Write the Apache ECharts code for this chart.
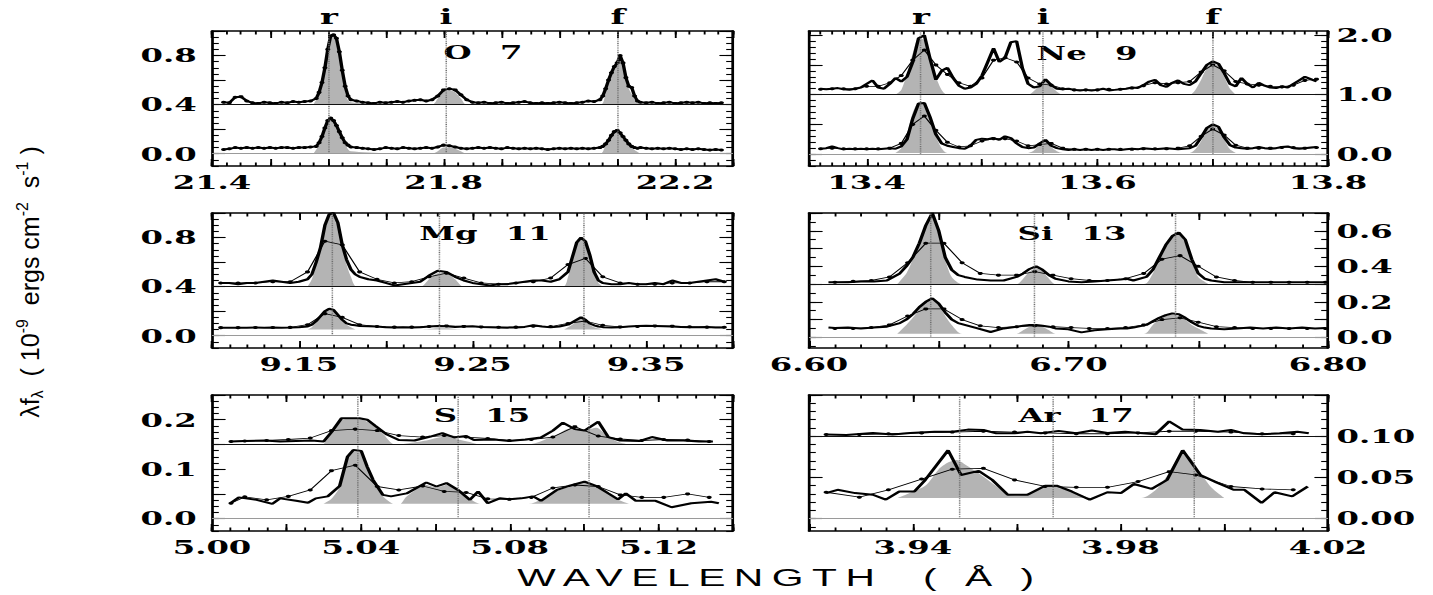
<!DOCTYPE html>
<html>
<head>
<meta charset="utf-8">
<script src="https://cdn.jsdelivr.net/npm/echarts@6/dist/echarts.min.js"></script>
<style>
html,body{margin:0;padding:0;background:#fff;width:1433px;height:595px;overflow:hidden}
#chart{position:absolute;left:0;top:0;width:843px;height:595px;transform-origin:0 0;transform:scaleX(1.7)}
</style>
</head>
<body>
<div id="chart"></div>
<script>
// ================= DATA =================
// ---- O 7 ----
const o7XLabels = [21.4, 21.8, 22.2];
const o7YLabels = [0.0, 0.4, 0.8];
const o7Lines = [21.602, 21.804, 22.101];
const o7Wl = [21.42,21.43,21.44,21.45,21.46,21.47,21.48,21.49,21.50,21.51,21.52,21.53,21.54,21.55,21.56,21.57,21.58,
  21.585,21.59,21.595,21.60,21.605,21.61,21.615,21.62,21.625,21.63,21.635,
  21.64,21.65,21.66,21.67,21.68,21.69,21.70,21.71,21.72,21.73,21.74,21.75,21.76,21.77,21.78,21.79,21.80,21.81,21.82,21.83,21.84,21.85,21.86,21.87,21.88,21.89,21.90,21.91,21.92,21.93,21.94,21.95,21.96,21.97,21.98,21.99,22.00,22.01,22.02,22.03,22.04,22.05,22.06,22.07,
  22.075,22.08,22.085,22.09,22.095,22.10,22.105,22.11,22.115,22.12,22.125,22.13,22.135,
  22.14,22.15,22.16,22.17,22.18,22.19,22.20,22.21,22.22,22.23,22.24,22.25,22.26,22.27,22.28];
const o7Top = [0.42,0.415,0.46,0.465,0.43,0.415,0.41,0.42,0.415,0.41,0.42,0.415,0.425,0.42,0.425,0.43,0.45,
  0.50,0.58,0.70,0.85,0.96,0.97,0.94,0.83,0.68,0.55,0.47,
  0.44,0.43,0.42,0.415,0.41,0.42,0.415,0.42,0.425,0.42,0.43,0.435,0.44,0.43,0.44,0.47,0.52,0.53,0.52,0.48,0.44,0.42,0.415,0.42,0.41,0.415,0.42,0.41,0.415,0.42,0.425,0.415,0.41,0.415,0.41,0.415,0.42,0.415,0.41,0.415,0.42,0.43,0.425,0.44,
  0.47,0.53,0.60,0.66,0.71,0.74,0.80,0.74,0.62,0.55,0.54,0.47,0.43,
  0.42,0.415,0.42,0.41,0.415,0.42,0.41,0.415,0.42,0.415,0.42,0.41,0.415,0.41,0.415];
const o7Bot = [0.035,0.04,0.05,0.045,0.05,0.045,0.05,0.045,0.05,0.045,0.05,0.05,0.045,0.05,0.05,0.055,0.06,
  0.09,0.14,0.21,0.27,0.29,0.27,0.23,0.18,0.13,0.09,0.07,
  0.055,0.05,0.045,0.04,0.035,0.04,0.05,0.045,0.04,0.05,0.045,0.04,0.045,0.05,0.045,0.055,0.07,0.065,0.055,0.045,0.04,0.045,0.05,0.045,0.05,0.045,0.04,0.05,0.045,0.04,0.045,0.04,0.045,0.04,0.035,0.04,0.045,0.04,0.045,0.04,0.045,0.04,0.045,0.05,
  0.06,0.08,0.11,0.15,0.18,0.19,0.17,0.14,0.11,0.08,0.06,0.05,0.045,
  0.05,0.045,0.04,0.045,0.04,0.045,0.04,0.035,0.04,0.035,0.04,0.035,0.03,0.035,0.03];
const o7FillWl = [21.575,21.585,21.59,21.595,21.60,21.605,21.61,21.615,21.62,21.625,21.63,21.64,
  21.78,21.79,21.80,21.81,21.82,21.83,21.84,
  22.07,22.08,22.085,22.09,22.095,22.10,22.105,22.11,22.115,22.12,22.13,22.14];
const o7FillTop = [0.40,0.48,0.57,0.70,0.85,0.95,0.96,0.92,0.80,0.65,0.52,0.42,
  0.40,0.45,0.51,0.52,0.50,0.45,0.40,
  0.40,0.52,0.60,0.66,0.71,0.74,0.78,0.72,0.60,0.53,0.45,0.40];
const o7FillBot = [0.00,0.07,0.13,0.20,0.26,0.28,0.26,0.22,0.17,0.12,0.08,0.02,
  0.00,0.02,0.05,0.05,0.04,0.02,0.00,
  0.00,0.07,0.10,0.14,0.17,0.18,0.16,0.13,0.10,0.07,0.03,0.00];

// ---- Ne 9 ----
const ne9XLabels = [13.4, 13.6, 13.8];
const ne9YLabels = [0.0, 1.0, 2.0];
const ne9Lines = [13.447, 13.553, 13.700];
const ne9Wl = [13.360,13.365,13.370,13.375,13.380,13.385,13.390,13.395,13.400,13.405,13.410,13.415,13.420,13.425,13.430,13.435,13.440,13.445,13.450,13.455,
  13.460,13.465,13.470,13.475,13.480,13.485,13.490,13.495,13.500,13.505,13.510,13.515,13.520,13.525,13.530,13.535,13.540,13.545,13.550,13.555,
  13.560,13.565,13.570,13.575,13.580,13.585,13.590,13.595,13.600,13.605,13.610,13.615,13.620,13.625,13.630,13.635,13.640,13.645,13.650,13.655,
  13.660,13.665,13.670,13.675,13.680,13.685,13.690,13.695,13.700,13.705,13.710,13.715,13.720,13.725,13.730,13.735,13.740,13.745,13.750,13.755,
  13.760,13.765,13.770,13.775,13.780,13.785,13.790];
const ne9Top = [1.10,1.09,1.10,1.11,1.09,1.08,1.10,1.12,1.18,1.24,1.12,1.10,1.18,1.28,1.22,1.30,1.55,1.95,2.00,1.60,
  1.25,1.40,1.45,1.28,1.15,1.10,1.12,1.18,1.32,1.55,1.78,1.55,1.62,1.88,1.90,1.45,1.18,1.12,1.14,1.26,
  1.16,1.10,1.09,1.10,1.08,1.07,1.08,1.07,1.08,1.10,1.07,1.08,1.09,1.10,1.12,1.11,1.16,1.22,1.25,1.16,
  1.13,1.20,1.24,1.18,1.16,1.22,1.36,1.50,1.56,1.52,1.36,1.18,1.14,1.28,1.18,1.12,1.20,1.15,1.12,1.11,
  1.14,1.12,1.18,1.24,1.30,1.26,1.22];
const ne9Bot = [0.09,0.10,0.13,0.10,0.08,0.09,0.08,0.09,0.08,0.09,0.08,0.09,0.10,0.09,0.13,0.25,0.60,0.85,0.86,0.62,
  0.33,0.18,0.14,0.12,0.10,0.09,0.14,0.24,0.26,0.25,0.27,0.24,0.30,0.27,0.18,0.12,0.10,0.11,0.18,0.24,
  0.14,0.10,0.08,0.07,0.08,0.07,0.08,0.07,0.08,0.07,0.08,0.08,0.07,0.08,0.09,0.08,0.10,0.09,0.08,0.09,
  0.10,0.09,0.08,0.09,0.10,0.14,0.28,0.44,0.50,0.46,0.28,0.15,0.11,0.10,0.09,0.10,0.12,0.10,0.09,0.10,
  0.12,0.13,0.10,0.09,0.10,0.11,0.12];
const ne9ThinWl = [13.36,13.37,13.38,13.39,13.40,13.41,13.42,13.43,13.44,13.45,13.46,13.47,13.48,13.49,13.50,13.51,13.52,13.53,13.54,13.55,
  13.56,13.57,13.58,13.59,13.60,13.61,13.62,13.63,13.64,13.65,13.66,13.67,13.68,13.69,13.70,13.71,13.72,13.73,13.74,13.75,13.76,13.77,13.78,13.79];
const ne9ThinTop = [1.09,1.10,1.10,1.10,1.14,1.14,1.20,1.32,1.58,1.75,1.50,1.34,1.20,1.14,1.28,1.58,1.62,1.55,1.28,1.18,
  1.16,1.10,1.08,1.08,1.08,1.09,1.09,1.11,1.15,1.20,1.18,1.20,1.22,1.38,1.50,1.40,1.22,1.18,1.16,1.14,1.13,1.16,1.24,1.26];
const ne9ThinBot = [0.09,0.10,0.09,0.09,0.09,0.09,0.10,0.18,0.50,0.64,0.40,0.20,0.12,0.14,0.22,0.26,0.26,0.22,0.14,0.16,
  0.18,0.10,0.08,0.08,0.08,0.08,0.08,0.08,0.09,0.09,0.09,0.10,0.14,0.30,0.42,0.32,0.15,0.10,0.10,0.10,0.11,0.11,0.10,0.11];
const ne9FillWl = [13.425,13.430,13.435,13.440,13.445,13.450,13.455,13.460,13.465,13.470,
  13.540,13.545,13.550,13.555,13.560,13.565,13.570,
  13.680,13.685,13.690,13.695,13.700,13.705,13.710,13.715,13.720];
const ne9FillTop = [1.0,1.08,1.35,1.70,1.95,1.92,1.62,1.30,1.08,1.0,
  1.0,1.06,1.16,1.22,1.14,1.05,1.0,
  1.0,1.08,1.25,1.45,1.54,1.48,1.30,1.10,1.0];
const ne9FillBot = [0.02,0.10,0.35,0.70,0.86,0.84,0.60,0.30,0.10,0.02,
  0.02,0.06,0.16,0.22,0.12,0.05,0.02,
  0.02,0.08,0.22,0.40,0.48,0.42,0.25,0.08,0.02];

// ---- Mg 11 ----
const mg11XLabels = [9.15, 9.25, 9.35];
const mg11YLabels = [0.0, 0.4, 0.8];
const mg11Lines = [9.169, 9.231, 9.314];
const mg11Wl = [9.105,9.110,9.115,9.120,9.125,9.130,9.135,9.140,9.145,9.150,9.155,
  9.1575,9.160,9.1625,9.165,9.1675,9.170,9.1725,9.175,9.1775,9.180,9.1825,
  9.185,9.190,9.195,9.200,9.205,9.210,9.215,9.220,9.225,9.230,9.235,9.240,9.245,9.250,9.255,9.260,9.265,9.270,9.275,9.280,9.285,9.290,9.295,9.300,9.305,
  9.3075,9.310,9.3125,9.315,9.3175,9.320,9.3225,
  9.325,9.330,9.335,9.340,9.345,9.350,9.355,9.360,9.365,9.370,9.375,9.380,9.385,9.390,9.395];
const mg11Top = [0.43,0.43,0.42,0.43,0.43,0.44,0.45,0.44,0.43,0.44,0.46,
  0.50,0.60,0.72,0.90,0.99,1.00,0.92,0.74,0.62,0.54,0.50,
  0.48,0.46,0.45,0.43,0.41,0.42,0.43,0.44,0.49,0.53,0.52,0.48,0.45,0.43,0.42,0.41,0.42,0.42,0.43,0.44,0.45,0.45,0.44,0.46,0.52,
  0.64,0.76,0.80,0.77,0.66,0.52,0.45,
  0.43,0.42,0.42,0.43,0.42,0.42,0.43,0.42,0.45,0.43,0.43,0.44,0.45,0.46,0.44];
const mg11Bot = [0.065,0.065,0.066,0.065,0.067,0.066,0.068,0.066,0.067,0.07,0.075,
  0.09,0.12,0.16,0.20,0.22,0.21,0.17,0.13,0.10,0.09,0.085,
  0.08,0.078,0.075,0.07,0.068,0.07,0.068,0.07,0.075,0.08,0.078,0.072,0.075,0.078,0.072,0.07,0.068,0.066,0.068,0.072,0.085,0.075,0.068,0.075,0.09,
  0.11,0.13,0.15,0.13,0.10,0.085,0.075,
  0.07,0.068,0.07,0.075,0.08,0.082,0.08,0.078,0.075,0.072,0.07,0.07,0.072,0.068,0.068];
const mg11ThinWl = [9.105,9.115,9.125,9.135,9.145,9.155,9.165,9.175,9.185,9.195,9.205,9.215,9.225,9.235,9.245,9.255,9.265,9.275,9.285,9.295,
  9.305,9.315,9.325,9.335,9.345,9.355,9.365,9.375,9.385,9.395];
const mg11ThinTop = [0.43,0.43,0.43,0.44,0.44,0.52,0.77,0.74,0.52,0.46,0.43,0.44,0.48,0.51,0.47,0.43,0.42,0.43,0.44,0.47,
  0.58,0.63,0.48,0.43,0.42,0.42,0.43,0.43,0.44,0.44];
const mg11ThinBot = [0.066,0.066,0.067,0.067,0.068,0.09,0.18,0.15,0.09,0.075,0.07,0.07,0.075,0.08,0.076,0.072,0.069,0.07,0.078,0.075,
  0.10,0.12,0.085,0.072,0.076,0.08,0.078,0.073,0.07,0.069];
const mg11FillWl = [9.155,9.1575,9.160,9.1625,9.165,9.1675,9.170,9.1725,9.175,9.1775,9.180,9.1835,
  9.220,9.225,9.230,9.235,9.240,9.245,
  9.302,9.305,9.3075,9.310,9.3125,9.315,9.3175,9.320,9.3225,9.325];
const mg11FillTop = [0.40,0.46,0.58,0.72,0.90,0.99,1.00,0.92,0.74,0.58,0.48,0.40,
  0.40,0.46,0.51,0.51,0.46,0.40,
  0.40,0.48,0.62,0.75,0.79,0.76,0.64,0.50,0.43,0.40];
const mg11FillBot = [0.05,0.07,0.11,0.15,0.19,0.21,0.20,0.17,0.12,0.09,0.07,0.05,
  0.05,0.055,0.06,0.06,0.055,0.05,
  0.05,0.07,0.09,0.12,0.14,0.12,0.09,0.07,0.06,0.05];

// ---- Si 13 ----
const si13XLabels = [6.60, 6.70, 6.80];
const si13YLabels = [0.0, 0.2, 0.4, 0.6];
const si13Lines = [6.647, 6.687, 6.741];
const si13Wl = [6.6075,6.610,6.615,6.620,6.625,6.630,6.635,6.6375,6.640,6.6425,6.645,6.6475,6.650,6.6525,6.655,6.6575,6.660,6.665,6.670,6.675,
  6.680,6.6825,6.685,6.6875,6.690,6.6925,6.695,6.700,6.705,6.710,6.715,6.720,6.7225,6.725,6.730,6.7325,6.735,6.7375,6.740,6.7425,
  6.745,6.7475,6.750,6.7525,6.755,6.760,6.765,6.770,6.775,6.780,6.785,6.790,6.795,6.799];
const si13Top = [0.31,0.31,0.31,0.315,0.315,0.32,0.36,0.40,0.45,0.53,0.63,0.70,0.60,0.45,0.38,0.35,0.34,0.325,0.32,0.32,
  0.34,0.36,0.385,0.40,0.38,0.35,0.33,0.315,0.31,0.315,0.32,0.325,0.33,0.32,0.34,0.38,0.45,0.52,0.57,0.59,
  0.55,0.44,0.36,0.33,0.32,0.31,0.31,0.31,0.31,0.31,0.31,0.31,0.31,0.31];
const si13Bot = [0.055,0.053,0.055,0.05,0.055,0.06,0.08,0.10,0.13,0.17,0.20,0.22,0.19,0.14,0.10,0.08,0.07,0.05,0.03,0.05,
  0.06,0.065,0.07,0.07,0.065,0.06,0.05,0.045,0.028,0.04,0.045,0.05,0.05,0.055,0.07,0.09,0.11,0.125,0.135,0.13,
  0.11,0.085,0.065,0.055,0.05,0.045,0.05,0.055,0.05,0.055,0.05,0.055,0.05,0.052];
const si13ThinWl = [6.610,6.617,6.624,6.631,6.638,6.645,6.652,6.659,6.666,6.673,6.680,6.687,6.694,6.701,6.708,6.715,6.722,6.729,6.736,6.743,
  6.750,6.757,6.764,6.771,6.778,6.785,6.792,6.799];
const si13ThinTop = [0.31,0.315,0.32,0.34,0.42,0.53,0.53,0.42,0.36,0.35,0.35,0.37,0.35,0.33,0.32,0.32,0.33,0.36,0.44,0.46,
  0.40,0.34,0.32,0.31,0.31,0.31,0.31,0.31];
const si13ThinBot = [0.05,0.05,0.055,0.07,0.12,0.16,0.16,0.10,0.065,0.055,0.06,0.065,0.06,0.055,0.05,0.05,0.055,0.07,0.10,0.11,
  0.085,0.06,0.055,0.05,0.05,0.05,0.05,0.05];
const si13FillWl = [6.634,6.6375,6.640,6.6425,6.645,6.6475,6.650,6.6525,6.655,6.659,
  6.680,6.6825,6.685,6.6875,6.690,6.6925,6.695,
  6.729,6.7325,6.735,6.7375,6.740,6.7425,6.745,6.7475,6.750,6.754];
const si13FillTop = [0.30,0.36,0.44,0.53,0.63,0.70,0.60,0.44,0.34,0.30,
  0.30,0.33,0.37,0.39,0.37,0.33,0.30,
  0.30,0.36,0.44,0.52,0.57,0.58,0.53,0.43,0.34,0.30];
const si13FillBot = [0.02,0.07,0.11,0.16,0.20,0.21,0.18,0.12,0.07,0.02,
  0.02,0.04,0.06,0.065,0.06,0.04,0.02,
  0.02,0.07,0.10,0.12,0.13,0.12,0.10,0.07,0.05,0.02];

// ---- S 15 ----
const s15XLabels = [5.00, 5.04, 5.08, 5.12];
const s15YLabels = [0.0, 0.1, 0.2];
const s15Lines = [5.039, 5.066, 5.101];
const s15TopWl = [5.0051,5.0088,5.0141,5.0183,5.0226,5.0268,5.0300,5.0321,5.0348,5.0396,5.0417,5.0438,5.0470,5.0502,5.0544,5.0587,5.0619,5.0651,5.0683,5.0704,
  5.0757,5.0799,5.0842,5.0884,5.0916,5.0943,5.0975,5.1001,5.1038,5.1065,5.1097,5.1150,5.1182,5.1224,5.1267,5.1309,5.1346];
const s15Top = [0.156,0.157,0.158,0.156,0.157,0.158,0.156,0.175,0.203,0.203,0.200,0.188,0.170,0.159,0.158,0.166,0.173,0.164,0.167,0.159,
  0.160,0.157,0.160,0.164,0.178,0.194,0.181,0.178,0.196,0.165,0.158,0.157,0.165,0.158,0.158,0.156,0.156];
const s15BotWl = [5.0051,5.0072,5.0120,5.0162,5.0183,5.0226,5.0258,5.0279,5.0311,5.0343,5.0364,5.0380,5.0401,5.0417,5.0433,5.0459,5.0481,5.0523,5.0576,5.0603,
  5.0630,5.0661,5.0693,5.0715,5.0741,5.0773,5.0799,5.0831,5.0863,5.0884,5.0927,5.0959,5.1001,5.1033,5.1065,5.1091,5.1112,5.1139,5.1192,5.1235,
  5.1288,5.1341,5.1362];
const s15Bot = [0.032,0.043,0.038,0.030,0.041,0.036,0.032,0.041,0.045,0.066,0.125,0.139,0.137,0.105,0.078,0.048,0.045,0.051,0.073,0.065,
  0.072,0.058,0.038,0.055,0.031,0.041,0.039,0.041,0.045,0.036,0.058,0.066,0.075,0.066,0.051,0.039,0.051,0.036,0.036,0.023,
  0.031,0.034,0.031];
const s15ThinWl = [5.0051,5.0088,5.0147,5.0205,5.0264,5.0321,5.0385,5.0444,5.0502,5.0566,5.0624,5.0683,5.0741,5.0799,5.0858,5.0916,5.0975,5.1038,5.1097,5.1155,
  5.1214,5.1278,5.1336];
const s15ThinTop = [0.156,0.157,0.158,0.160,0.163,0.178,0.181,0.178,0.168,0.165,0.168,0.165,0.162,0.158,0.160,0.165,0.186,0.167,0.161,0.158,
  0.160,0.159,0.156];
const s15ThinBot = [0.031,0.044,0.038,0.045,0.058,0.097,0.108,0.065,0.058,0.066,0.055,0.053,0.040,0.039,0.043,0.062,0.068,0.065,0.048,0.043,
  0.043,0.050,0.043];
const s15FillWl = [5.0300,5.0321,5.0343,5.0364,5.0380,5.0401,5.0417,5.0438,5.0459,5.0490,
  5.0505,5.0523,5.0576,5.0603,5.0630,5.0661,5.0693,5.0720,
  5.0850,5.0927,5.0959,5.1001,5.1033,5.1065,5.1091,5.1120];
const s15FillTop = [0.150,0.172,0.198,0.201,0.201,0.200,0.196,0.186,0.172,0.150,
  0.150,0.152,0.158,0.163,0.166,0.160,0.155,0.150,
  0.150,0.170,0.182,0.180,0.184,0.165,0.155,0.150];
const s15FillBot = [0.030,0.040,0.064,0.123,0.138,0.136,0.105,0.075,0.046,0.030,
  0.030,0.045,0.068,0.063,0.068,0.056,0.040,0.030,
  0.030,0.056,0.064,0.073,0.064,0.050,0.038,0.030];

// ---- Ar 17 ----
const ar17XLabels = [3.94, 3.98, 4.02];
const ar17YLabels = [0.00, 0.05, 0.10];
const ar17Lines = [3.949, 3.967, 3.994];
const ar17TopWl = [3.9233,3.9272,3.9323,3.9361,3.9395,3.9442,3.9476,3.9506,3.9536,3.9561,3.9596,3.9621,3.9647,3.9681,3.9715,3.9745,3.9775,3.9809,3.9843,3.9868,
  3.9894,3.9920,3.9954,3.9988,4.0013,4.0039,4.0073,4.0107,4.0141,4.0163];
const ar17Top = [0.102,0.1015,0.104,0.102,0.104,0.1055,0.1055,0.108,0.1075,0.1035,0.1035,0.1055,0.1035,0.1065,0.1035,0.107,0.104,0.1055,0.1035,0.1025,
  0.118,0.108,0.1075,0.1055,0.1075,0.1035,0.1025,0.1035,0.1055,0.1035];
const ar17BotWl = [3.9233,3.9255,3.9289,3.9323,3.9348,3.9374,3.9403,3.9424,3.9468,3.9493,3.9527,3.9553,3.9583,3.9621,3.9655,3.9677,3.9706,3.9741,3.9775,3.9801,
  3.9826,3.9860,3.9890,3.9920,3.9954,3.9985,4.0018,4.0039,4.0072,4.0097,4.0131,4.0161];
const ar17Bot = [0.031,0.035,0.031,0.029,0.023,0.033,0.033,0.047,0.083,0.053,0.058,0.047,0.029,0.029,0.040,0.040,0.033,0.023,0.032,0.031,
  0.042,0.036,0.047,0.083,0.053,0.044,0.035,0.035,0.019,0.032,0.027,0.039];
const ar17ThinWl = [3.9233,3.9297,3.9353,3.9417,3.9476,3.9536,3.9596,3.9655,3.9715,3.9775,3.9834,3.9894,3.9945,4.0013,4.0073,4.0133];
const ar17ThinTop = [0.102,0.102,0.103,0.104,0.105,0.106,0.105,0.104,0.103,0.103,0.104,0.106,0.106,0.105,0.103,0.103];
const ar17ThinBot = [0.032,0.026,0.035,0.048,0.060,0.061,0.047,0.039,0.038,0.038,0.045,0.057,0.053,0.039,0.036,0.035];
const ar17FillWl = [3.9370,3.9424,3.9450,3.9468,3.9485,3.9500,3.9527,3.9555,3.9583,3.9600,3.9630,3.9660,3.9690,3.9720,3.9745,
  3.9840,3.9870,3.9890,3.9905,3.9920,3.9935,3.9954,3.9975,4.0000];
const ar17FillTop = [0.10,0.10,0.10,0.10,0.10,0.10,0.10,0.10,0.10,0.10,0.10,0.10,0.10,0.10,0.10,
  0.10,0.10,0.10,0.10,0.10,0.10,0.10,0.10,0.10];
const ar17FillBot = [0.025,0.040,0.060,0.068,0.071,0.066,0.055,0.042,0.030,0.028,0.032,0.038,0.036,0.030,0.025,
  0.025,0.036,0.052,0.068,0.080,0.074,0.056,0.038,0.025];

const ionNames = ['O 7', 'Ne 9', 'Mg 11', 'Si 13', 'S 15', 'Ar 17'];
const lineLetters = ['r', 'i', 'f'];

// ================= LAYOUT =================
const SX = 1.7;                       // horizontal stretch of the original figure
const colLeft = [212, 809], colWidth = [521, 519];
const rowTop = [31, 213, 395], rowH = [135, 135, 136];
const GRAY = '#b4b4b4';
const SERIF = '"DejaVu Serif", "Liberation Serif", serif';
const SANS = '"Liberation Sans", Arial, sans-serif';

const panels = [
  {ion:ionNames[0], col:0,row:0, x:[21.4,22.3], y:[-0.1,1.0], xLab:o7XLabels, yLab:o7YLabels, xDec:1,yDec:1, xMaj:0.1,xMin:0.025,yMaj:0.2,yMin:0.05,
   topWl:o7Wl, top:o7Top, botWl:o7Wl, bot:o7Bot, thinWl:null, fillWl:o7FillWl, fillTop:o7FillTop, fillBot:o7FillBot, upBase:0.4, loBase:0.0, lines:o7Lines, sym:true, lab:[483,52]},
  {ion:ionNames[1], col:1,row:0, x:[13.35,13.80], y:[-0.2,2.07], xLab:ne9XLabels, yLab:ne9YLabels, xDec:1,yDec:1, xMaj:0.1,xMin:0.01,yMaj:0.5,yMin:0.1,
   topWl:ne9Wl, top:ne9Top, botWl:ne9Wl, bot:ne9Bot, thinWl:ne9ThinWl, thinTop:ne9ThinTop, thinBot:ne9ThinBot, fillWl:ne9FillWl, fillTop:ne9FillTop, fillBot:ne9FillBot, upBase:1.0, loBase:0.02, lines:ne9Lines, lab:[1087,53]},
  {ion:ionNames[2], col:0,row:1, x:[9.10,9.40], y:[-0.1,1.0], xLab:mg11XLabels, yLab:mg11YLabels, xDec:2,yDec:1, xMaj:0.05,xMin:0.01,yMaj:0.2,yMin:0.05,
   topWl:mg11Wl, top:mg11Top, botWl:mg11Wl, bot:mg11Bot, thinWl:mg11ThinWl, thinTop:mg11ThinTop, thinBot:mg11ThinBot, fillWl:mg11FillWl, fillTop:mg11FillTop, fillBot:mg11FillBot, upBase:0.4, loBase:0.05, lines:mg11Lines, lab:[485,233]},
  {ion:ionNames[3], col:1,row:1, x:[6.60,6.80], y:[-0.06,0.70], xLab:si13XLabels, yLab:si13YLabels, xDec:2,yDec:1, xMaj:0.05,xMin:0.01,yMaj:0.1,yMin:0.05,
   topWl:si13Wl, top:si13Top, botWl:si13Wl, bot:si13Bot, thinWl:si13ThinWl, thinTop:si13ThinTop, thinBot:si13ThinBot, fillWl:si13FillWl, fillTop:si13FillTop, fillBot:si13FillBot, upBase:0.3, loBase:0.02, lines:si13Lines, lab:[1072,233]},
  {ion:ionNames[4], col:0,row:2, x:[5.00,5.14], y:[-0.025,0.25], xLab:s15XLabels, yLab:s15YLabels, xDec:2,yDec:1, xMaj:0.02,xMin:0.005,yMaj:0.05,yMin:0.0125,
   topWl:s15TopWl, top:s15Top, botWl:s15BotWl, bot:s15Bot, thinWl:s15ThinWl, thinTop:s15ThinTop, thinBot:s15ThinBot, fillWl:s15FillWl, fillTop:s15FillTop, fillBot:s15FillBot, upBase:0.15, loBase:0.03, lines:s15Lines, lab:[482,415]},
  {ion:ionNames[5], col:1,row:2, x:[3.92,4.02], y:[-0.015,0.15], xLab:ar17XLabels, yLab:ar17YLabels, xDec:2,yDec:2, xMaj:0.02,xMin:0.005,yMaj:0.05,yMin:0.01,
   topWl:ar17TopWl, top:ar17Top, botWl:ar17BotWl, bot:ar17Bot, thinWl:ar17ThinWl, thinTop:ar17ThinTop, thinBot:ar17ThinBot, fillWl:ar17FillWl, fillTop:ar17FillTop, fillBot:ar17FillBot, upBase:0.10, loBase:0.025, lines:ar17Lines, lab:[1076,415]}
];

// ================= BUILD =================
function pairs(xs, ys) {
  const n = Math.min(xs.length, ys.length), out = [];
  for (let i = 0; i < n; i++) out.push([xs[i], ys[i]]);
  return out;
}
function tickVals(min, max, step, anchor) {
  const out = [];
  const k0 = Math.ceil((min - anchor) / step - 1e-6), k1 = Math.floor((max - anchor) / step + 1e-6);
  for (let k = k0; k <= k1; k++) out.push(Math.round((anchor + k * step) * 1e6) / 1e6);
  return out;
}
const FRAME = {color:'#000', width:1.6};
const LABEL_FONT = {color:'#000', fontFamily:SERIF, fontWeight:'bold', fontSize:19};

function makeAxis(kind, g, pos, p, ticks, len, withLine, labels) {
  const range = kind === 'x' ? p.x : p.y;
  const dec = kind === 'x' ? p.xDec : p.yDec;
  return {
    type:'value', gridIndex:g, position:pos, min:range[0], max:range[1], silent:true,
    axisLine:{show:withLine, onZero:false, lineStyle:FRAME},
    axisTick:{show:true, inside:true, length:len, customValues:ticks, lineStyle:{color:'#000', width:1.1}},
    axisLabel: labels ? Object.assign({show:true, customValues:labels, formatter:v => v.toFixed(dec),
                         margin: kind === 'x' ? 7 : (pos === 'left' ? 9 : 5)}, LABEL_FONT) : {show:false},
    splitLine:{show:false}
  };
}

const grid = [], xAxis = [], yAxis = [], series = [];
panels.forEach((p, g) => {
  grid.push({left: colLeft[p.col] / SX, top: rowTop[p.row], width: colWidth[p.col] / SX, height: rowH[p.row]});
  const xMaj = tickVals(p.x[0], p.x[1], p.xMaj, p.xLab[0]);
  const xMin = tickVals(p.x[0], p.x[1], p.xMin, p.xLab[0]);
  const yMaj = tickVals(p.y[0], p.y[1], p.yMaj, 0);
  const yMin = tickVals(p.y[0], p.y[1], p.yMin, 0);
  p.xi = xAxis.length; p.yi = yAxis.length;
  xAxis.push(makeAxis('x', g, 'bottom', p, xMaj, 7, true, p.xLab));
  xAxis.push(makeAxis('x', g, 'bottom', p, xMin, 3.5, false, null));
  xAxis.push(makeAxis('x', g, 'top', p, xMaj, 7, true, null));
  xAxis.push(makeAxis('x', g, 'top', p, xMin, 3.5, false, null));
  const labSide = p.col === 0 ? 'left' : 'right', other = p.col === 0 ? 'right' : 'left';
  yAxis.push(makeAxis('y', g, labSide, p, yMaj, 8, true, p.yLab));
  yAxis.push(makeAxis('y', g, labSide, p, yMin, 4, false, null));
  yAxis.push(makeAxis('y', g, other, p, yMaj, 8, true, null));
  yAxis.push(makeAxis('y', g, other, p, yMin, 4, false, null));

  const base = {type:'line', xAxisIndex:p.xi, yAxisIndex:p.yi, silent:true, animation:false, symbol:'none'};
  series.push(Object.assign({}, base, {
    name: p.ion + ' profile (upper)', data: pairs(p.fillWl, p.fillTop), smooth:0.25,
    lineStyle:{width:0}, areaStyle:{color:GRAY, opacity:1, origin:p.upBase}, z:1,
    markLine:{silent:true, symbol:['none','none'], animation:false, label:{show:false},
      lineStyle:{type:'dotted', color:'#6f6f6f', width:0.9},
      data: p.lines.map(v => [{coord:[v, 0]}, {coord:[v, p.y[1]]}]).concat([
        {yAxis:p.upBase, lineStyle:{type:'solid', color:'#111', width:1}},
        {yAxis:0, lineStyle:{type:'solid', color:'#9a9a9a', width:1}}
      ])}
  }));
  series.push(Object.assign({}, base, {
    name: p.ion + ' profile (lower)', data: pairs(p.fillWl, p.fillBot), smooth:0.25,
    lineStyle:{width:0}, areaStyle:{color:GRAY, opacity:1, origin:p.loBase}, z:1
  }));
  if (p.thinWl) {
    [p.thinTop, p.thinBot].forEach((vals, k) => series.push(Object.assign({}, base, {
      name: p.ion + (k ? ' model (lower)' : ' model (upper)'), data: pairs(p.thinWl, vals),
      symbol:'circle', symbolSize:3, showSymbol:true, itemStyle:{color:'#000'},
      lineStyle:{color:'#000', width:0.8}, z:3
    })));
  }
  [[p.topWl, p.top], [p.botWl, p.bot]].forEach((d, k) => series.push(Object.assign({}, base, {
    name: p.ion + (k ? ' spectrum (lower)' : ' spectrum (upper)'), data: pairs(d[0], d[1]),
    symbol: p.sym ? 'circle' : 'none', symbolSize:3, showSymbol: !!p.sym, itemStyle:{color:'#000'},
    lineStyle:{color:'#000', width:2}, z:4
  })));
});

const chart = echarts.init(document.getElementById('chart'), null, {renderer:'svg', width:843, height:595});
chart.setOption({animation:false, backgroundColor:'#fff', grid, xAxis, yAxis, series});

// ---- texts ----
const els = [];
panels.forEach((p, g) => els.push({type:'text', id:'ion' + g, x:p.lab[0] / SX, y:p.lab[1], silent:true,
  style:{text:p.ion, align:'center', verticalAlign:'middle', fontFamily:SERIF, fontWeight:'bold', fontSize:19, fill:'#000'}}));
[0, 1].forEach(pi => {
  const p = panels[pi];
  p.lines.forEach((v, k) => {
    const px = chart.convertToPixel({xAxisIndex:p.xi}, v);
    els.push({type:'text', id:'rif' + pi + k, x:px, y:17, silent:true,
      style:{text:lineLetters[k], align:'center', verticalAlign:'middle', fontFamily:SERIF, fontWeight:'bold', fontSize:20, fill:'#000'}});
  });
});
els.push({type:'text', id:'xtitle', x:780 / SX, y:578, silent:true,
  style:{text:'WAVELENGTH  ( Å )', align:'center', verticalAlign:'middle', fontFamily:SANS, fontSize:24, fill:'#000'}});
els.push({type:'text', id:'ytitle', x:30 / SX, y:282, rotation:Math.PI / 2, scaleY:1 / SX, silent:true,
  style:{text:'{m|λf}{b|λ}{m|  ( 10}{t|-9}{m|  ergs cm}{t|-2}{m|  s}{t|-1}{m| )}', align:'center', verticalAlign:'middle',
    rich:{
      m:{fontFamily:SANS, fontSize:25, lineHeight:32, fill:'#000'},
      t:{fontFamily:SANS, fontSize:16, lineHeight:17, verticalAlign:'top', fill:'#000'},
      b:{fontFamily:SANS, fontSize:16, lineHeight:17, verticalAlign:'bottom', fill:'#000'}
    }}});
chart.setOption({graphic:{elements:els}});

function spaceTexts() {
  document.querySelectorAll('#chart text').forEach(t => {
    const s = t.textContent;
    if (s.indexOf('WAVELENGTH') === 0) { t.style.letterSpacing = '5px'; t.style.whiteSpace = 'pre'; }
    else if (ionNames.indexOf(s) >= 0) { t.style.wordSpacing = '10px'; t.style.whiteSpace = 'pre'; }
  });
}
spaceTexts();
setTimeout(spaceTexts, 50);
</script>
</body>
</html>
